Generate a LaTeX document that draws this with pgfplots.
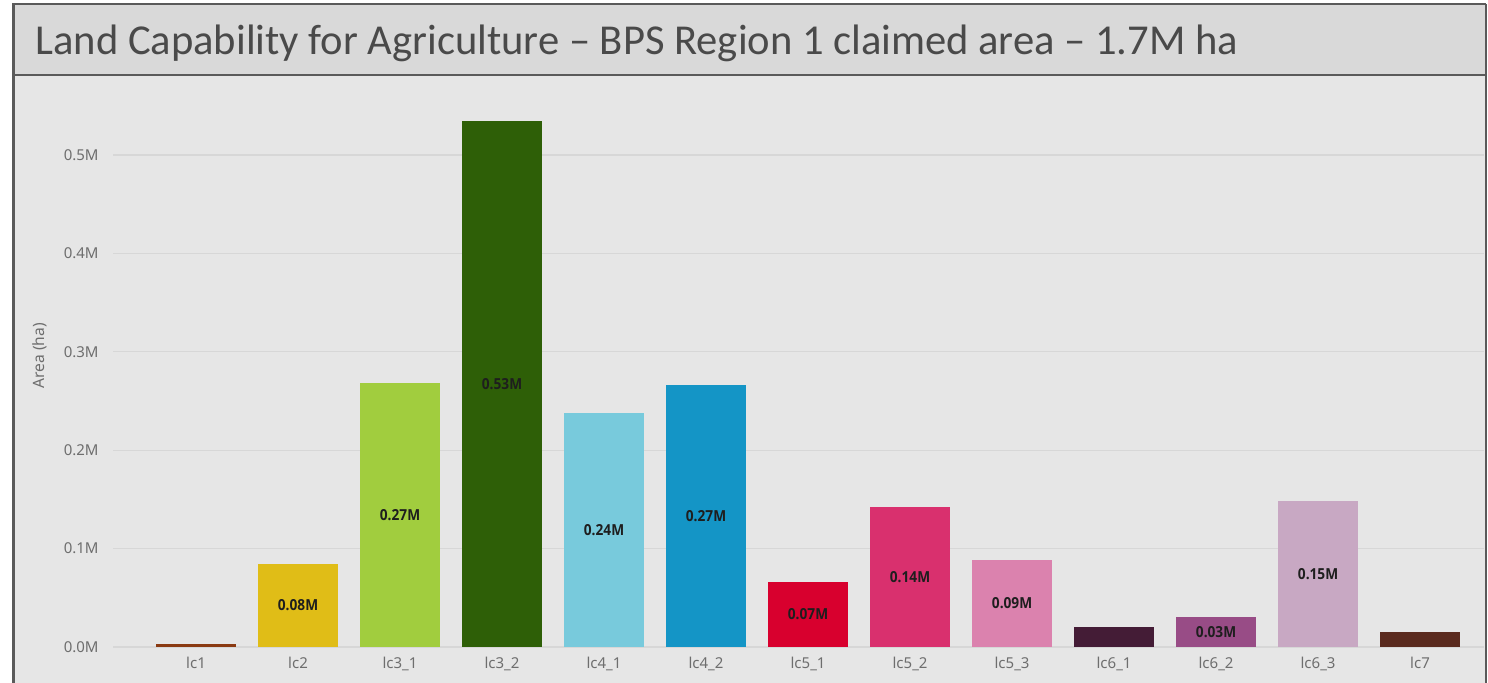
\documentclass[border=0pt]{standalone}
\usepackage{graphicx}
\usepackage{pgfplots}
\pgfplotsset{compat=1.18}
\usepackage{fontspec}
\setmainfont{Noto Sans}
\newfontfamily\titlefont{Carlito}
\newfontfamily\labfont{Open Sans}
\definecolor{plotbg}{HTML}{E6E6E6}
\definecolor{titlebg}{HTML}{D9D9D9}
\definecolor{framec}{HTML}{5A5A5A}
\definecolor{titletext}{HTML}{4A4A4A}
\definecolor{gridc}{HTML}{D7D7D7}
\definecolor{tickc}{HTML}{6E6E6E}
\definecolor{labc}{HTML}{1E1E1E}
\definecolor{c1}{HTML}{8A3A12}
\definecolor{c2}{HTML}{E0BD17}
\definecolor{c3}{HTML}{A1CD3E}
\definecolor{c4}{HTML}{2E5F07}
\definecolor{c5}{HTML}{78CADC}
\definecolor{c6}{HTML}{1495C6}
\definecolor{c7}{HTML}{D8002E}
\definecolor{c8}{HTML}{D9306E}
\definecolor{c9}{HTML}{DB82AE}
\definecolor{c10}{HTML}{441C36}
\definecolor{c11}{HTML}{984C86}
\definecolor{c12}{HTML}{C8A8C3}
\definecolor{c13}{HTML}{5A2A1E}
\begin{document}
\begin{tikzpicture}
\useasboundingbox (0,0) rectangle (744pt,341.5pt);
\fill[white] (0,0) rectangle (744pt,341.5pt);
\fill[plotbg] (7pt,0) rectangle (743pt,304pt);
\fill[titlebg] (7pt,304pt) rectangle (743pt,339.5pt);
\draw[framec, line width=1.3pt] (6.8pt,0) -- (6.8pt,339.5pt) -- (743pt,339.5pt);
\draw[framec, line width=0.8pt] (743pt,339.5pt) -- (743pt,0);
\draw[framec, line width=0.8pt] (6.8pt,304pt) -- (743pt,304pt);
\node[anchor=base west, inner sep=0pt, font=\titlefont\fontsize{21.3}{25}\selectfont, text=titletext] at (17.5pt,314pt) {Land Capability for Agriculture – BPS Region 1 claimed area – 1.7M ha};
\begin{axis}[
  at={(56.5pt,18pt)}, anchor=south west,
  scale only axis, width=685.5pt, height=278.5pt,
  xmin=-0.814, xmax=12.627, ymin=0, ymax=0.566,
  axis line style={draw=none}, major tick length=0pt,
  ymajorgrids, grid style={gridc, line width=0.6pt},
  ytick={0,0.1,0.2,0.3,0.4,0.5},
  yticklabel={\pgfmathprintnumber[assume math mode=true,fixed,fixed zerofill,precision=1]{\tick}M},
  yticklabel style={anchor=east, inner sep=0pt, xshift=-7pt, text=tickc, font=\fontsize{7.5}{9}\selectfont},
  xtick={0,1,2,3,4,5,6,7,8,9,10,11,12},
  xticklabels={lc1,lc2,lc3\_1,lc3\_2,lc4\_1,lc4\_2,lc5\_1,lc5\_2,lc5\_3,lc6\_1,lc6\_2,lc6\_3,lc7},
  xticklabel style={anchor=north, inner sep=0pt, yshift=-5pt, text=tickc, font=\fontsize{7.5}{9}\selectfont},
  ylabel={Area (ha)},
  ylabel style={at={(axis description cs:-0.0535,0.523)}, anchor=center, text=tickc, font=\fontsize{7.8}{9}\selectfont},
  ybar, bar width=0.784, bar shift=0pt,
  lab/.style={
    nodes near coords={\scalebox{0.9}[1]{\labfont\bfseries\pgfmathprintnumber[assume math mode=true,fixed,fixed zerofill,precision=2]{\pgfplotspointmeta}M}},
    visualization depends on=rawy \as \rawy,
    every node near coord/.append style={anchor=center, inner sep=0pt, text=labc,
      font=\labfont\bfseries\fontsize{7.6}{9}\selectfont,
      shift={(axis direction cs:0,-\rawy/2)}}
  },
]
\addplot[fill=c1, draw=none] coordinates {(0,0.003)};
\addplot[fill=c2, draw=none, lab] coordinates {(1,0.0843)};
\addplot[fill=c3, draw=none, lab] coordinates {(2,0.268)};
\addplot[fill=c4, draw=none, lab] coordinates {(3,0.5346)};
\addplot[fill=c5, draw=none, lab] coordinates {(4,0.238)};
\addplot[fill=c6, draw=none, lab] coordinates {(5,0.266)};
\addplot[fill=c7, draw=none, lab] coordinates {(6,0.066)};
\addplot[fill=c8, draw=none, lab] coordinates {(7,0.142)};
\addplot[fill=c9, draw=none, lab] coordinates {(8,0.0884)};
\addplot[fill=c10, draw=none] coordinates {(9,0.0203)};
\addplot[fill=c11, draw=none, lab] coordinates {(10,0.0305)};
\addplot[fill=c12, draw=none, lab] coordinates {(11,0.148)};
\addplot[fill=c13, draw=none] coordinates {(12,0.0152)};
\end{axis}
\end{tikzpicture}
\end{document}
